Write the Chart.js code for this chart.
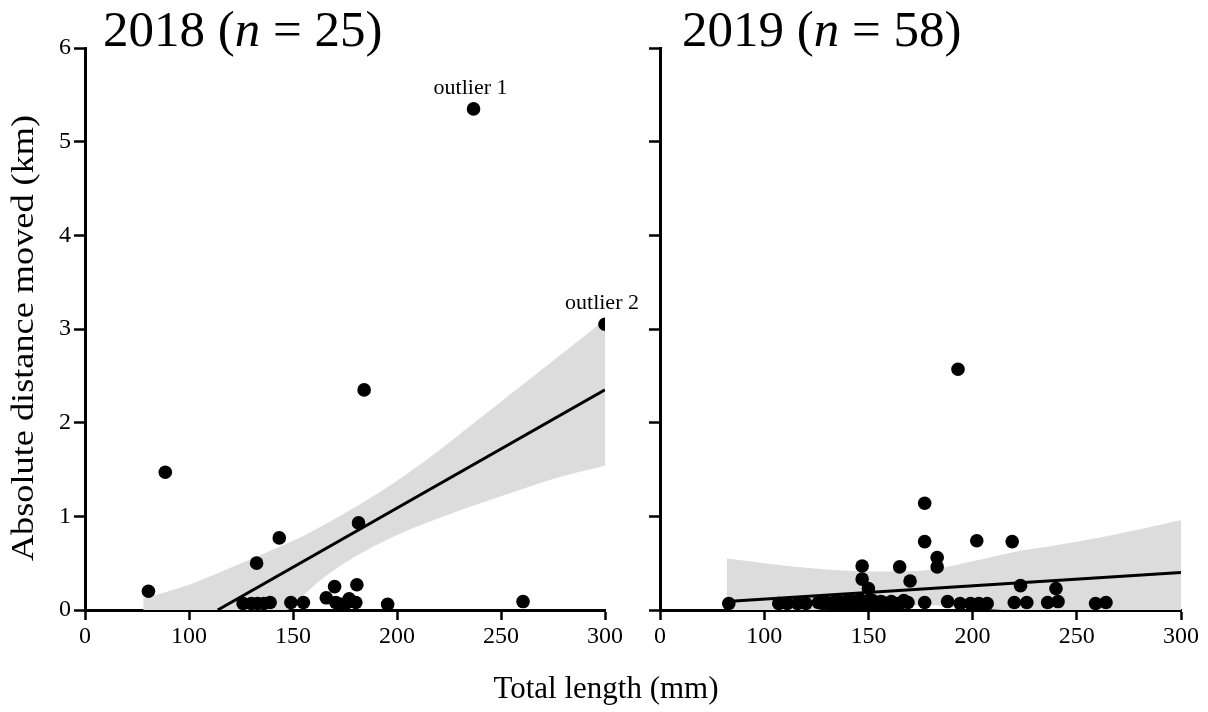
<!DOCTYPE html>
<html>
<head>
<meta charset="utf-8">
<script src="https://cdn.jsdelivr.net/npm/chart.js@4.4.1/dist/chart.umd.min.js"></script>
<style>
  body { margin: 0; background: #fff; }
  #wrap { position: relative; width: 1208px; height: 712px; }
  #wrap canvas { position: absolute; left: 0; top: 0; }
</style>
</head>
<body>
<div id="wrap">
  <canvas id="chart2018" width="1208" height="712"></canvas>
  <canvas id="chart2019" width="1208" height="712"></canvas>
</div>
<script>
// x axis is drawn from 50 to 300 with the first tick labelled "0"
const xTicks = [50, 100, 150, 200, 250, 300];
const xTickLabels = ['0', '100', '150', '200', '250', '300'];
const yTicks = [0, 1, 2, 3, 4, 5, 6];

// 2018 (n = 25)
const len2018 = [80.5, 88.6, 126, 130, 132.5, 133, 136, 139, 143.4, 149, 155, 166, 170, 170.6, 173,
                 176.2, 177, 180.2, 180.7, 181.5, 184.2, 195.5, 236.8, 260.6, 300];
const dist2018 = [0.2, 1.47, 0.07, 0.07, 0.5, 0.07, 0.07, 0.08, 0.77, 0.08, 0.08, 0.13, 0.25, 0.08, 0.06,
                  0.08, 0.12, 0.08, 0.27, 0.93, 2.35, 0.06, 5.35, 0.09, 3.05];
const fit2018X = [113.8, 300];
const fit2018Y = [0, 2.35];
const band2018X = [78, 100, 120, 140, 147, 155, 165, 180, 200, 220, 240, 260, 280, 300];
const band2018Lo = [0, 0, 0, 0, 0, 0.16, 0.35, 0.57, 0.8, 0.98, 1.14, 1.29, 1.43, 1.54];
const band2018Hi = [0.12, 0.27, 0.45, 0.64, 0.71, 0.79, 0.91, 1.1, 1.38, 1.7, 2.05, 2.4, 2.75, 3.1];
const labels2018 = [{ text: 'outlier 1', x: 236.8, y: 5.35 }, { text: 'outlier 2', x: 300, y: 3.05 }];

// 2019 (n = 58)
const len2019 = [193, 177, 177, 202, 219, 183, 183, 165, 170, 223, 240, 147, 147, 150,
                 83, 107, 111, 116, 120,
                 126, 128, 129, 131, 133, 134, 136, 137, 139, 140, 142, 143, 145, 146, 148, 149, 151, 152, 154, 156,
                 157, 160, 161, 163, 166, 167, 169,
                 177, 188, 194, 199, 203, 207, 220, 226, 236, 241, 259, 264];
const dist2019 = [2.57, 1.14, 0.73, 0.74, 0.73, 0.56, 0.46, 0.46, 0.31, 0.26, 0.23, 0.47, 0.33, 0.23,
                  0.07, 0.07, 0.07, 0.07, 0.07,
                  0.08, 0.07, 0.09, 0.07, 0.08, 0.07, 0.09, 0.07, 0.08, 0.1, 0.07, 0.09, 0.08, 0.11, 0.07, 0.09, 0.08, 0.1, 0.07, 0.09,
                  0.08, 0.07, 0.09, 0.07, 0.08, 0.1, 0.08,
                  0.08, 0.09, 0.07, 0.07, 0.07, 0.07, 0.08, 0.08, 0.08, 0.09, 0.07, 0.08];
const fit2019X = [82, 300];
const fit2019Y = [0.09, 0.4];
const band2019X = [82, 100, 120, 140, 160, 180, 200, 220, 240, 260, 280, 300];
const band2019Lo = [0, 0, 0, 0.02, 0.05, 0.05, 0.02, 0, 0, 0, 0, 0];
const band2019Hi = [0.55, 0.5, 0.45, 0.42, 0.41, 0.43, 0.52, 0.62, 0.69, 0.77, 0.86, 0.96];

const SERIF = '"Liberation Serif", "Times New Roman", serif';

function pts(xs, ys) {
    return xs.map((x, i) => ({ x: x, y: ys[i] }));
}

// title with italic n, drawn at a fixed place
const titlePlugin = {
    id: 'panelTitle',
    afterDraw(chart, args, opts) {
        const ctx = chart.ctx;
        ctx.save();
        ctx.fillStyle = '#000';
        ctx.textBaseline = 'alphabetic';
        let x = opts.x;
        const parts = [[opts.year + ' (', ''], ['n', 'italic '], [' = ' + opts.n + ')', '']];
        parts.forEach(p => {
            ctx.font = p[1] + '51px ' + SERIF;
            ctx.fillText(p[0], x, 46);
            x += ctx.measureText(p[0]).width;
        });
        ctx.restore();
    }
};

// outlier labels + the shared axis titles (left chart only)
const extraPlugin = {
    id: 'extras',
    afterDraw(chart, args, opts) {
        const ctx = chart.ctx;
        const xs = chart.scales.x, ys = chart.scales.y;
        ctx.save();
        ctx.fillStyle = '#000';
        ctx.font = '22px ' + SERIF;
        ctx.textAlign = 'center';
        ctx.textBaseline = 'bottom';
        (opts.labels || []).forEach(l => {
            ctx.fillText(l.text, xs.getPixelForValue(l.x) - 3, ys.getPixelForValue(l.y) - 10);
        });
        if (opts.axisTitles) {
            ctx.font = '31px ' + SERIF;
            ctx.textBaseline = 'middle';
            ctx.fillText('Total length (mm)', 606, 690);
            ctx.translate(25, 338);
            ctx.rotate(-Math.PI / 2);
            ctx.scale(1.17, 1);
            ctx.fillText('Absolute distance moved (km)', 0, 0);
        }
        ctx.restore();
    }
};

function makeChart(id, cfg) {
    const ctx = document.getElementById(id).getContext('2d');
    return new Chart(ctx, {
        type: 'scatter',
        data: {
            datasets: [
                {
                    data: pts(cfg.lens, cfg.dists),
                    backgroundColor: '#000',
                    borderWidth: 0,
                    pointRadius: 6.8,
                    pointHoverRadius: 6.8
                },
                {
                    type: 'line',
                    data: pts(cfg.fitX, cfg.fitY),
                    borderColor: '#000',
                    borderWidth: 3,
                    pointRadius: 0,
                    fill: false
                },
                {
                    type: 'line',
                    data: pts(cfg.bandX, cfg.bandHi),
                    borderWidth: 0,
                    borderColor: 'rgba(0,0,0,0)',
                    backgroundColor: '#dcdcdc',
                    pointRadius: 0,
                    cubicInterpolationMode: 'monotone',
                    fill: '+1'
                },
                {
                    type: 'line',
                    data: pts(cfg.bandX, cfg.bandLo),
                    borderWidth: 0,
                    borderColor: 'rgba(0,0,0,0)',
                    pointRadius: 0,
                    cubicInterpolationMode: 'monotone',
                    fill: false
                }
            ]
        },
        options: {
            responsive: false,
            animation: false,
            devicePixelRatio: 1,
            layout: { padding: cfg.padding },
            plugins: {
                legend: { display: false },
                tooltip: { enabled: false },
                panelTitle: cfg.title,
                extras: cfg.extras
            },
            scales: {
                x: {
                    type: 'linear',
                    min: 50,
                    max: 300,
                    afterBuildTicks: s => { s.ticks = xTicks.map(v => ({ value: v })); },
                    afterFit: s => { s.height = 60; },
                    ticks: {
                        callback: (v) => xTickLabels[xTicks.indexOf(v)],
                        color: '#000',
                        font: { family: SERIF, size: 24 },
                        padding: 2,
                        maxRotation: 0
                    },
                    grid: { drawOnChartArea: false, tickLength: 10, tickColor: '#000', tickWidth: 2.5 },
                    border: { color: '#000', width: 3 }
                },
                y: {
                    min: 0,
                    max: 6,
                    afterBuildTicks: s => { s.ticks = yTicks.map(v => ({ value: v })); },
                    afterFit: s => { s.width = cfg.yWidth; },
                    ticks: {
                        callback: (v) => cfg.yLabels ? String(v) : '',
                        color: '#000',
                        font: { family: SERIF, size: 24 },
                        padding: 3
                    },
                    grid: { drawOnChartArea: false, tickLength: 11, tickColor: '#000', tickWidth: 2.5 },
                    border: { color: '#000', width: 3 }
                }
            }
        },
        plugins: [titlePlugin, extraPlugin]
    });
}

makeChart('chart2018', {
    lens: len2018, dists: dist2018,
    fitX: fit2018X, fitY: fit2018Y,
    bandX: band2018X, bandLo: band2018Lo, bandHi: band2018Hi,
    padding: { left: 0, right: 603, top: 48, bottom: 42 },
    yWidth: 85,
    yLabels: true,
    title: { year: '2018', n: 25, x: 103 },
    extras: { labels: labels2018, axisTitles: true }
});

makeChart('chart2019', {
    lens: len2019, dists: dist2019,
    fitX: fit2019X, fitY: fit2019Y,
    bandX: band2019X, bandLo: band2019Lo, bandHi: band2019Hi,
    padding: { left: 640, right: 27, top: 48, bottom: 42 },
    yWidth: 20,
    yLabels: false,
    title: { year: '2019', n: 58, x: 682 },
    extras: { labels: [], axisTitles: false }
});
</script>
</body>
</html>
